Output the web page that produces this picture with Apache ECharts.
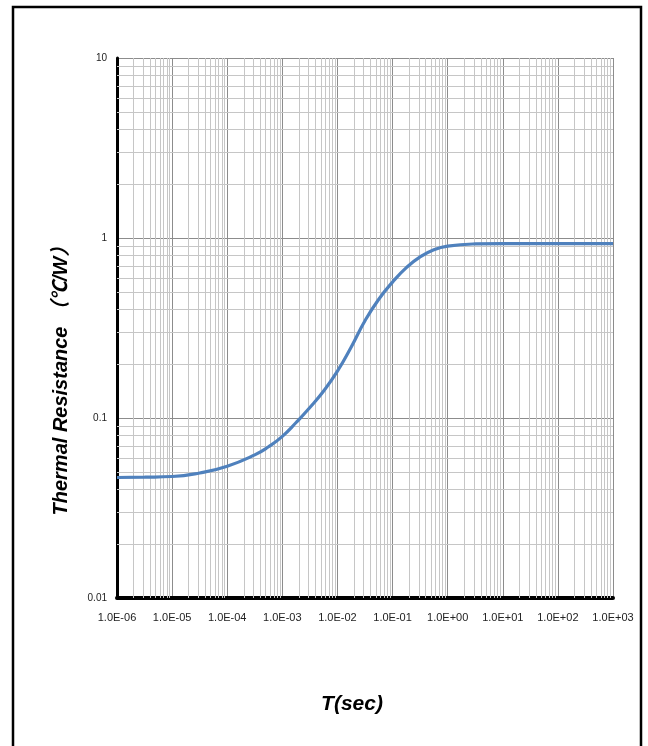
<!DOCTYPE html>
<html>
<head>
<meta charset="utf-8">
<script src="https://cdn.jsdelivr.net/npm/echarts@6/dist/echarts.min.js"></script>
<style>
html,body{margin:0;padding:0;background:#fff;}
#c{width:648px;height:746px;}
</style>
</head>
<body>
<div id="c"></div>
<script>
// Data
var timeSec = [1e-6, 3.16e-6, 1e-5, 3.16e-5, 1e-4, 3.16e-4, 5.62e-4, 1e-3, 1.78e-3, 3.16e-3, 5.62e-3, 1e-2, 1.78e-2, 3.16e-2, 5.62e-2, 0.1, 0.178, 0.316, 0.562, 1, 3.16, 10, 100, 1000];
var thermalRes = [0.0467, 0.0469, 0.0473, 0.0495, 0.054, 0.0624, 0.0692, 0.0791, 0.0944, 0.1143, 0.1413, 0.182, 0.248, 0.347, 0.457, 0.569, 0.684, 0.785, 0.861, 0.902, 0.927, 0.931, 0.931, 0.931];
var xTickLabels = ['1.0E-06','1.0E-05','1.0E-04','1.0E-03','1.0E-02','1.0E-01','1.0E+00','1.0E+01','1.0E+02','1.0E+03'];
var yTickLabels = ['0.01','0.1','1','10'];
var xDecades = [-6,-5,-4,-3,-2,-1,0,1,2];
var yDecades = [-2,-1,0];
var minorSteps = [2,3,4,5,6,7,8,9];

var xMin = 1e-6, xMax = 1e3, yMin = 0.01, yMax = 10;

var minorLines = [];
xDecades.forEach(function(d){ minorSteps.forEach(function(m){
  var v = m * Math.pow(10, d);
  minorLines.push({coords: [[v, yMin], [v, yMax]]});
}); });
yDecades.forEach(function(d){ minorSteps.forEach(function(m){
  var v = m * Math.pow(10, d);
  minorLines.push({coords: [[xMin, v], [xMax, v]]});
}); });

var chart = echarts.init(document.getElementById('c'));
chart.setOption({
  animation: false,
  backgroundColor: '#fff',
  grid: {left: 117, top: 58, right: 35, bottom: 148, containLabel: false},
  xAxis: {
    type: 'log', logBase: 10, min: xMin, max: xMax,
    name: 'T(sec)', nameLocation: 'middle', nameGap: 96,
    nameTextStyle: {fontFamily: 'Liberation Sans', fontSize: 21, fontWeight: 'bold', fontStyle: 'italic', color: '#000', padding: [0, 26, 0, 0]},
    axisLine: {show: true, lineStyle: {color: '#000', width: 4}},
    axisTick: {show: false},
    axisLabel: {
      margin: 14, fontFamily: 'Liberation Sans', fontSize: 11, color: '#222',
      formatter: function(v){ var i = Math.round(Math.log10(v)) + 6; return xTickLabels[i] || ''; }
    },
    splitLine: {show: true, lineStyle: {color: '#8c8c8c', width: 1}}
  },
  yAxis: {
    type: 'log', logBase: 10, min: yMin, max: yMax,
    name: 'Thermal Resistance （℃/W）', nameLocation: 'middle', nameGap: 46, nameRotate: 90,
    nameTextStyle: {fontFamily: '"Liberation Sans", "Noto Sans CJK SC"', fontSize: 20, fontWeight: 'bold', fontStyle: 'italic', color: '#000', padding: [0, 96, 0, 0]},
    axisLine: {show: true, lineStyle: {color: '#000', width: 3}},
    axisTick: {show: false},
    axisLabel: {
      margin: 10, fontFamily: 'Liberation Sans', fontSize: 10, color: '#222',
      formatter: function(v){ var i = Math.round(Math.log10(v)) + 2; return yTickLabels[i] || ''; }
    },
    splitLine: {show: true, lineStyle: {color: '#8c8c8c', width: 1}}
  },
  graphic: [{
    type: 'rect', silent: true,
    shape: {x: 13, y: 7, width: 628, height: 760},
    style: {fill: 'none', stroke: '#000', lineWidth: 2.5}
  }],
  series: [{
    type: 'lines', coordinateSystem: 'cartesian2d', z: 1, silent: true,
    polyline: false,
    lineStyle: {color: '#c6c6c6', width: 1, opacity: 1, type: 'solid'},
    data: minorLines
  }, {
    type: 'line', z: 5,
    data: timeSec.map(function(t, i){ return [t, thermalRes[i]]; }),
    smooth: true, showSymbol: false,
    lineStyle: {color: '#4f81bd', width: 3.2}
  }]
});
</script>
</body>
</html>
